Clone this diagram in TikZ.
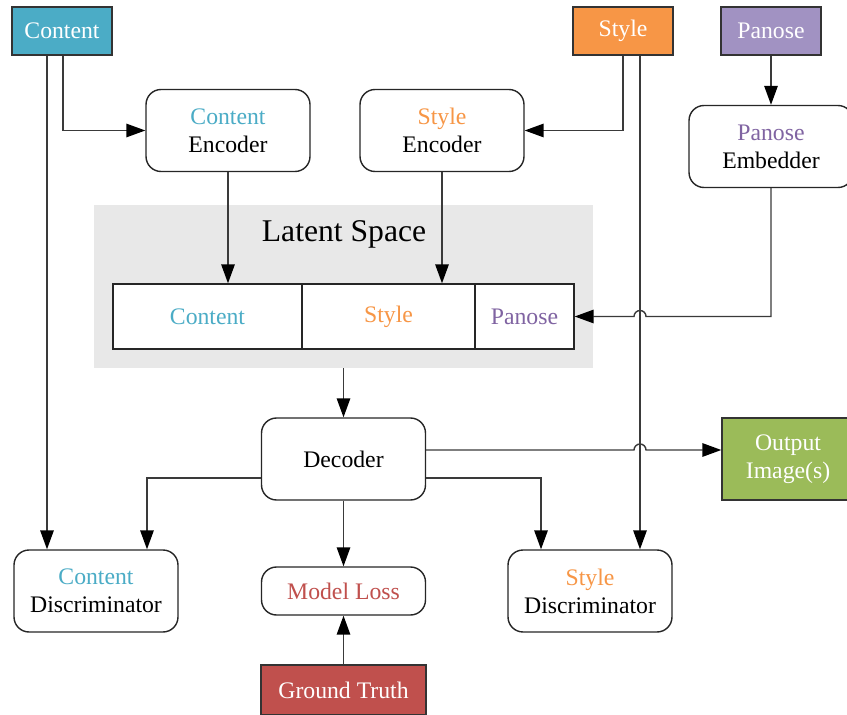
\documentclass[tikz,border=0pt]{standalone}
\usepackage{fontspec}
\setmainfont{Liberation Serif}
\usepackage{xcolor}
\usetikzlibrary{arrows.meta, positioning}

\definecolor{cContent}{HTML}{4BACC6}
\definecolor{cStyle}{HTML}{F79646}
\definecolor{cPanose}{HTML}{8064A2}
\definecolor{cPanoseFill}{HTML}{A192C2}
\definecolor{cOutput}{HTML}{9BBB59}
\definecolor{cTruth}{HTML}{C0504D}
\definecolor{cLine}{HTML}{3A3A3A}

\tikzset{
  block/.style={draw=black!85, line width=0.8pt, rounded corners=0.3cm, align=center,
    minimum width=3.28cm, minimum height=1.64cm, fill=white},
  tag/.style={draw=black!80, line width=0.8pt, text=white, minimum width=2cm, minimum height=0.96cm},
  cell/.style={draw=black!85, line width=0.8pt, fill=white, minimum height=1.3cm},
  link/.style={draw=cLine, line width=0.8pt, -{Triangle[length=3.8mm,width=2.7mm,black]}},
}

\begin{document}
\begin{tikzpicture}[x=0.02cm, y=-0.02cm, font=\fontsize{13.5}{16}\selectfont]
	\useasboundingbox (0,0) rectangle (847,715);

	% inputs
	\node[tag, fill=cContent] (cont) at (62,31) {Content};
	\node[tag, fill=cStyle] (sty) at (623,31) {Style};
	\node[tag, fill=cPanoseFill] (pan) at (771,31) {Panose};

	% encoders
	\node[block] (cenc) at (228,130.5) {\textcolor{cContent}{Content}\\Encoder};
	\node[block] (senc) at (442,130.5) {\textcolor{cStyle}{Style}\\Encoder};
	\node[block] (pemb) at (771,146.5) {\textcolor{cPanose}{Panose}\\Embedder};

	% latent space
	\node[fill=black!9, minimum width=10cm, minimum height=3.26cm] (latent) at (343.5,286.5) {};
	\node (ltitle) at (344,234) {\fontsize{18}{21}\selectfont Latent Space};
	\node[cell, minimum width=3.78cm, text=cContent] (cellC) at (207.5,316.5) {Content};
	\node[cell, minimum width=3.46cm, text=cStyle] (cellS) at (388.5,316.5) {Style};
	\node[cell, minimum width=1.98cm, text=cPanose] (cellP) at (524.5,316.5) {Panose};

	% decoder and outputs
	\node[block] (dec) at (343.5,459) {Decoder};
	\node[draw=black!80, line width=0.8pt, fill=cOutput, text=white, align=center,
	  minimum width=2.64cm, minimum height=1.64cm] (out) at (788,459) {Output\\Image(s)};
	\node[block] (cdis) at (96,591) {\textcolor{cContent}{Content}\\Discriminator};
	\node[block, minimum height=0.96cm, text=cTruth] (loss) at (343.5,591) {Model Loss};
	\node[block] (sdis) at (590,591) {\textcolor{cStyle}{Style}\\Discriminator};
	\node[tag, fill=cTruth, minimum width=3.3cm, minimum height=1cm] (truth) at (343.5,690) {Ground Truth};

	\coordinate (hopA) at (646,316.5);
	\coordinate (hopB) at (634,450);

	\draw[link] ([xshift=0.02cm]cont.south) |- (cenc.west);
	\draw[link] ([xshift=-0.3cm]cont.south) -- ([xshift=-0.3cm]cont.south |- cdis.north);
	\draw[link] (sty.south) |- (senc.east);
	\draw[link] ([xshift=0.34cm]sty.south) -- ([xshift=0.34cm]sty.south |- sdis.north);
	\draw[link] (pan.south) -- (pemb.north);
	\draw[link] (pemb.south) |- (hopA) arc[start angle=0, end angle=180, radius=1.2mm] -- (cellP.east);
	\draw[link] (cenc.south) -- (cenc.south |- cellC.north);
	\draw[link] (senc.south) -- (senc.south |- cellS.north);
	\draw[link] (latent.south) -- (dec.north);
	\draw[link] (dec.east |- hopB) -- (hopB) arc[start angle=180, end angle=0, radius=1.2mm] -- (out.west |- hopB);
	\draw[link] ([yshift=-0.38cm]dec.west) -| ([xshift=1.02cm]cdis.north);
	\draw[link] ([yshift=-0.38cm]dec.east) -| ([xshift=-0.98cm]sdis.north);
	\draw[link] (dec.south) -- (loss.north);
	\draw[link] (truth.north) -- (loss.south);
\end{tikzpicture}
\end{document}
